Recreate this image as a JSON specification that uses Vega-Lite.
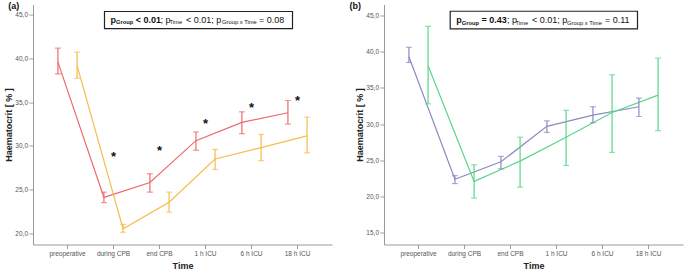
{
  "$schema": "https://vega.github.io/schema/vega-lite/v6.json",
  "padding": {"left": 4, "top": 1.5, "right": 3, "bottom": 3},
  "config": {
    "font": "Liberation Sans",
    "view": {"stroke": null},
    "axis": {
      "domainColor": "#9a9a9a", "tickColor": "#9a9a9a", "labelColor": "#555555",
      "titleColor": "#222222", "labelFont": "Liberation Sans", "titleFont": "Liberation Sans",
      "grid": false, "labelFontSize": 6.5, "tickSize": 4, "labelPadding": 1.5,
      "titleFontSize": 9, "titleFontWeight": "bold"
    }
  },
  "datasets": {
    "a": [
      {"time": "preoperative", "group": "Group 1", "mean": 39.6, "lo": 38.25, "hi": 41.2},
      {"time": "during CPB", "group": "Group 1", "mean": 24.1, "lo": 23.5, "hi": 24.7},
      {"time": "end CPB", "group": "Group 1", "mean": 25.8, "lo": 24.7, "hi": 26.8},
      {"time": "1 h ICU", "group": "Group 1", "mean": 30.6, "lo": 29.5, "hi": 31.6},
      {"time": "6 h ICU", "group": "Group 1", "mean": 32.7, "lo": 31.4, "hi": 33.9},
      {"time": "18 h ICU", "group": "Group 1", "mean": 33.8, "lo": 32.5, "hi": 35.2},
      {"time": "preoperative", "group": "Group 2", "mean": 39.2, "lo": 37.75, "hi": 40.75},
      {"time": "during CPB", "group": "Group 2", "mean": 20.5, "lo": 20.1, "hi": 21.0},
      {"time": "end CPB", "group": "Group 2", "mean": 23.55, "lo": 22.4, "hi": 24.7},
      {"time": "1 h ICU", "group": "Group 2", "mean": 28.5, "lo": 27.3, "hi": 29.6},
      {"time": "6 h ICU", "group": "Group 2", "mean": 29.8, "lo": 28.3, "hi": 31.3},
      {"time": "18 h ICU", "group": "Group 2", "mean": 31.15, "lo": 29.2, "hi": 33.3}
    ],
    "b": [
      {"time": "preoperative", "group": "Group A", "mean": 39.3, "lo": 38.5, "hi": 40.6},
      {"time": "during CPB", "group": "Group A", "mean": 22.4, "lo": 21.8, "hi": 22.9},
      {"time": "end CPB", "group": "Group A", "mean": 24.8, "lo": 23.85, "hi": 25.55},
      {"time": "1 h ICU", "group": "Group A", "mean": 29.7, "lo": 28.85, "hi": 30.45},
      {"time": "6 h ICU", "group": "Group A", "mean": 31.25, "lo": 30.2, "hi": 32.4},
      {"time": "18 h ICU", "group": "Group A", "mean": 32.4, "lo": 31.05, "hi": 33.6},
      {"time": "preoperative", "group": "Group B", "mean": 38.05, "lo": 32.8, "hi": 43.5},
      {"time": "during CPB", "group": "Group B", "mean": 22.1, "lo": 19.8, "hi": 24.4},
      {"time": "end CPB", "group": "Group B", "mean": 24.9, "lo": 21.3, "hi": 28.2},
      {"time": "1 h ICU", "group": "Group B", "mean": 28.2, "lo": 24.3, "hi": 31.9},
      {"time": "6 h ICU", "group": "Group B", "mean": 31.6, "lo": 26.1, "hi": 36.8},
      {"time": "18 h ICU", "group": "Group B", "mean": 34.0, "lo": 29.1, "hi": 39.1}
    ],
    "stars": [
      {"time": "during CPB", "value": 28.7},
      {"time": "end CPB", "value": 29.45},
      {"time": "1 h ICU", "value": 32.5},
      {"time": "6 h ICU", "value": 34.3},
      {"time": "18 h ICU", "value": 35.2}
    ]
  },
  "spacing": 17,
  "resolve": {"scale": {"x": "independent", "y": "independent", "color": "independent", "xOffset": "independent"}},
  "hconcat": [
    {
      "width": 299, "height": 240,
      "encoding": {
        "x": {"field": "time", "type": "nominal", "sort": ["preoperative", "during CPB", "end CPB", "1 h ICU", "6 h ICU", "18 h ICU"],
              "scale": {"type": "band", "paddingInner": 0, "paddingOuter": 0.25},
              "axis": {"title": "Time", "labelAngle": 0, "titlePadding": 5}},
        "y": {"type": "quantitative",
              "scale": {"domain": [18.7, 46.2], "nice": false, "zero": false},
              "axis": {"title": "Haematocrit [ % ]", "values": [20, 25, 30, 35, 40, 45], "titlePadding": 1,
                       "labelExpr": "replace(format(datum.value, '.1f'), '.', ',')"}}
      },
      "layer": [
        {
          "data": {"name": "a"},
          "encoding": {
            "xOffset": {"field": "group", "type": "nominal", "scale": {"type": "point", "padding": 0.7}},
            "color": {"field": "group", "type": "nominal", "legend": null,
                      "scale": {"domain": ["Group 1", "Group 2"], "range": ["#ec6a6c", "#f5bc4c"]}}
          },
          "layer": [
            {"mark": {"type": "line", "strokeWidth": 1.2}, "encoding": {"y": {"field": "mean"}}},
            {"mark": {"type": "rule", "strokeWidth": 1.2}, "encoding": {"y": {"field": "lo"}, "y2": {"field": "hi"}}},
            {"mark": {"type": "tick", "size": 6, "thickness": 1.2}, "encoding": {"y": {"field": "lo"}}},
            {"mark": {"type": "tick", "size": 6, "thickness": 1.2}, "encoding": {"y": {"field": "hi"}}}
          ]
        },
        {
          "data": {"name": "stars"},
          "mark": {"type": "text", "text": "*", "fontSize": 13, "fontWeight": "bold", "color": "#111111", "baseline": "middle"},
          "encoding": {"y": {"field": "value"}}
        },
        {
          "data": {"values": [{}]},
          "layer": [
            {"mark": {"type": "rect", "fill": "white", "stroke": "#222222", "strokeWidth": 1.2, "xOffset": -9, "x2Offset": -5},
             "encoding": {"x": {"datum": "during CPB", "bandPosition": 0.5}, "x2": {"datum": "18 h ICU", "bandPosition": 0.5},
                          "y": {"datum": 45.4}, "y2": {"datum": 43.43}}},
            {"mark": {"type": "text", "text": "p", "fontSize": 9, "fontWeight": "bold", "align": "left", "baseline": "alphabetic", "dx": -3, "color": "#111111"},
             "encoding": {"x": {"datum": "during CPB"}, "y": {"datum": 44.09}}},
            {"mark": {"type": "text", "text": "Group", "fontSize": 5.8, "fontWeight": "bold", "align": "left", "baseline": "alphabetic", "dx": 2.5, "dy": 1.5, "color": "#111111"},
             "encoding": {"x": {"datum": "during CPB"}, "y": {"datum": 44.09}}},
            {"mark": {"type": "text", "text": "< 0.01", "fontSize": 9, "fontWeight": "bold", "align": "left", "baseline": "alphabetic", "dx": 22.2, "color": "#111111"},
             "encoding": {"x": {"datum": "during CPB"}, "y": {"datum": 44.09}}},
            {"mark": {"type": "text", "text": "; p", "fontSize": 9, "align": "left", "baseline": "alphabetic", "dx": 47, "color": "#111111"},
             "encoding": {"x": {"datum": "during CPB"}, "y": {"datum": 44.09}}},
            {"mark": {"type": "text", "text": "Time", "fontSize": 5.8, "align": "left", "baseline": "alphabetic", "dx": 56, "dy": 1.5, "color": "#111111"},
             "encoding": {"x": {"datum": "during CPB"}, "y": {"datum": 44.09}}},
            {"mark": {"type": "text", "text": "< 0.01; p", "fontSize": 9, "align": "left", "baseline": "alphabetic", "dx": 72.5, "color": "#111111"},
             "encoding": {"x": {"datum": "during CPB"}, "y": {"datum": 44.09}}},
            {"mark": {"type": "text", "text": "Group x Time", "fontSize": 5.8, "align": "left", "baseline": "alphabetic", "dx": 108.5, "dy": 1.5, "color": "#111111"},
             "encoding": {"x": {"datum": "during CPB"}, "y": {"datum": 44.09}}},
            {"mark": {"type": "text", "text": "= 0.08", "fontSize": 9, "align": "left", "baseline": "alphabetic", "dx": 145.5, "color": "#111111"},
             "encoding": {"x": {"datum": "during CPB"}, "y": {"datum": 44.09}}},
            {"mark": {"type": "text", "text": "(a)", "fontSize": 9, "fontWeight": "bold", "align": "left", "baseline": "middle", "dx": -59.2, "dy": 1, "color": "#111111"},
             "encoding": {"x": {"datum": "preoperative"}, "y": {"datum": 46.2}}}
          ]
        }
      ]
    },
    {
      "width": 299, "height": 240,
      "encoding": {
        "x": {"field": "time", "type": "nominal", "sort": ["preoperative", "during CPB", "end CPB", "1 h ICU", "6 h ICU", "18 h ICU"],
              "scale": {"type": "band", "paddingInner": 0, "paddingOuter": 0.25},
              "axis": {"title": "Time", "labelAngle": 0, "titlePadding": 5}},
        "y": {"type": "quantitative",
              "scale": {"domain": [13.4, 46.5], "nice": false, "zero": false},
              "axis": {"title": "Haematocrit [ % ]", "values": [15, 20, 25, 30, 35, 40, 45], "titlePadding": 1,
                       "labelExpr": "replace(format(datum.value, '.1f'), '.', ',')"}}
      },
      "layer": [
        {
          "data": {"name": "b"},
          "encoding": {
            "xOffset": {"field": "group", "type": "nominal", "scale": {"type": "point", "padding": 0.7}},
            "color": {"field": "group", "type": "nominal", "legend": null,
                      "scale": {"domain": ["Group A", "Group B"], "range": ["#8a8cc0", "#5ad68c"]}}
          },
          "layer": [
            {"mark": {"type": "line", "strokeWidth": 1.2}, "encoding": {"y": {"field": "mean"}}},
            {"mark": {"type": "rule", "strokeWidth": 1.2}, "encoding": {"y": {"field": "lo"}, "y2": {"field": "hi"}}},
            {"mark": {"type": "tick", "size": 6, "thickness": 1.2}, "encoding": {"y": {"field": "lo"}}},
            {"mark": {"type": "tick", "size": 6, "thickness": 1.2}, "encoding": {"y": {"field": "hi"}}}
          ]
        },
        {
          "data": {"values": [{}]},
          "layer": [
            {"mark": {"type": "rect", "fill": "white", "stroke": "#222222", "strokeWidth": 1.2, "xOffset": -14.3, "x2Offset": -11},
             "encoding": {"x": {"datum": "during CPB", "bandPosition": 0.5}, "x2": {"datum": "18 h ICU", "bandPosition": 0.5},
                          "y": {"datum": 45.57}, "y2": {"datum": 43.14}}},
            {"mark": {"type": "text", "text": "p", "fontSize": 9, "fontWeight": "bold", "align": "left", "baseline": "alphabetic", "dx": -8.3, "color": "#111111"},
             "encoding": {"x": {"datum": "during CPB"}, "y": {"datum": 43.94}}},
            {"mark": {"type": "text", "text": "Group", "fontSize": 5.8, "fontWeight": "bold", "align": "left", "baseline": "alphabetic", "dx": -2.8, "dy": 1.5, "color": "#111111"},
             "encoding": {"x": {"datum": "during CPB"}, "y": {"datum": 43.94}}},
            {"mark": {"type": "text", "text": "= 0.43", "fontSize": 9, "fontWeight": "bold", "align": "left", "baseline": "alphabetic", "dx": 17.1, "color": "#111111"},
             "encoding": {"x": {"datum": "during CPB"}, "y": {"datum": 43.94}}},
            {"mark": {"type": "text", "text": "; p", "fontSize": 9, "align": "left", "baseline": "alphabetic", "dx": 42.4, "color": "#111111"},
             "encoding": {"x": {"datum": "during CPB"}, "y": {"datum": 43.94}}},
            {"mark": {"type": "text", "text": "Time", "fontSize": 5.8, "align": "left", "baseline": "alphabetic", "dx": 51, "dy": 1.5, "color": "#111111"},
             "encoding": {"x": {"datum": "during CPB"}, "y": {"datum": 43.94}}},
            {"mark": {"type": "text", "text": "< 0.01; p", "fontSize": 9, "align": "left", "baseline": "alphabetic", "dx": 67.4, "color": "#111111"},
             "encoding": {"x": {"datum": "during CPB"}, "y": {"datum": 43.94}}},
            {"mark": {"type": "text", "text": "Group x Time", "fontSize": 5.8, "align": "left", "baseline": "alphabetic", "dx": 102.6, "dy": 1.5, "color": "#111111"},
             "encoding": {"x": {"datum": "during CPB"}, "y": {"datum": 43.94}}},
            {"mark": {"type": "text", "text": "= 0.11", "fontSize": 9, "align": "left", "baseline": "alphabetic", "dx": 140.5, "color": "#111111"},
             "encoding": {"x": {"datum": "during CPB"}, "y": {"datum": 43.94}}},
            {"mark": {"type": "text", "text": "(b)", "fontSize": 9, "fontWeight": "bold", "align": "left", "baseline": "middle", "dx": -69, "dy": 1, "color": "#111111"},
             "encoding": {"x": {"datum": "preoperative"}, "y": {"datum": 46.5}}}
          ]
        }
      ]
    }
  ]
}
